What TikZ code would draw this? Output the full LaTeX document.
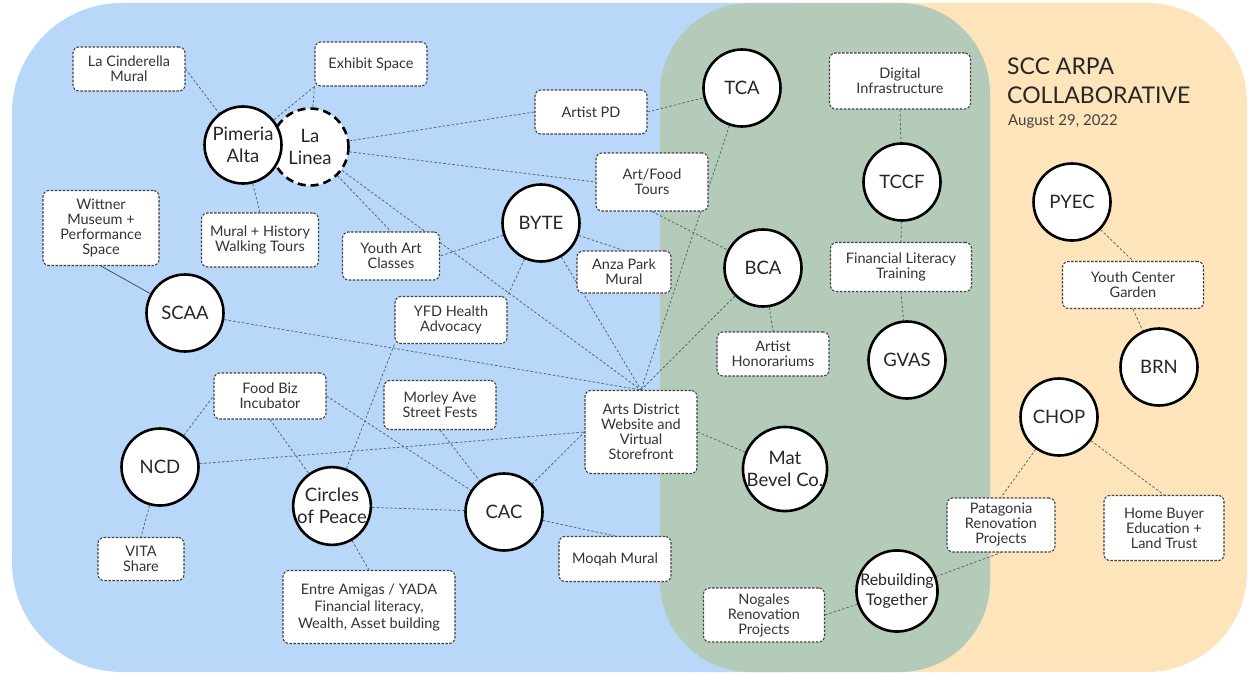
\documentclass[tikz,border=0pt]{standalone}
\usepackage{fontspec}
\setmainfont{Lato}
\usepackage{tikz}
\definecolor{bgblue}{RGB}{184,215,249}
\definecolor{bggreen}{RGB}{181,203,186}
\definecolor{bgtan}{RGB}{253,228,186}
\definecolor{linkgray}{RGB}{85,105,115}
\newcommand{\boxfont}{\fontsize{14.5}{15}\selectfont}
\newcommand{\orgfont}{\fontsize{18.5}{21.5}\selectfont}
\pgfdeclarelayer{regions}
\pgfdeclarelayer{links}
\pgfsetlayers{regions,links,main}
\tikzset{
 org/.style={circle, draw=black, line width=2.6pt, fill=white, minimum size=77pt, inner sep=0pt, align=center, font=\orgfont, text=black!85},
 orgdash/.style={org, dash pattern=on 8pt off 5pt},
 proj/.style={draw=black!75, line width=1.1pt, dash pattern=on 2.5pt off 1.5pt, rounded corners=6pt, fill=white, align=center, font=\boxfont, text=black!80, inner sep=1pt, minimum width=112pt, minimum height=44pt},
 link/.style={draw=linkgray, line width=0.8pt, dash pattern=on 2.5pt off 2pt},
 tie/.style={draw=linkgray!80!black, line width=0.8pt},
}
\begin{document}
\begin{tikzpicture}[x=1pt,y=-1pt]
\useasboundingbox (0,0) rectangle (1252,674);
\begin{pgfonlayer}{regions}
\fill[white] (0,0) rectangle (1252,674);
\fill[bgblue, rounded corners=110pt] (12,3) rectangle (900,672);
\fill[bgtan, rounded corners=100pt] (780,3) rectangle (1247,672);
\fill[bggreen, rounded corners=90pt] (660,3) rectangle (990,672);
\end{pgfonlayer}
\node[anchor=base west, inner sep=0pt, font=\fontsize{23}{27}\selectfont, text=black!85] (title) at (1007,75) {SCC ARPA};
\node[anchor=base west, inner sep=0pt, font=\fontsize{23}{27}\selectfont, text=black!85] (subtitle) at (1007,104) {COLLABORATIVE};
\node[anchor=base west, inner sep=0pt, font=\fontsize{15}{18}\selectfont, text=black!75] (date) at (1008,125) {August 29, 2022};
\node[orgdash] (linea) at (310,147) {La\\Linea};
\node[org] (pimeria) at (243,145) {Pimeria\\Alta};
\node[org] (tca) at (742,88) {TCA};
\node[org] (byte) at (541,223) {BYTE};
\node[org] (bca) at (763,268) {BCA};
\node[org] (tccf) at (902,182) {TCCF};
\node[org] (pyec) at (1072,202) {PYEC};
\node[org] (gvas) at (907,360) {GVAS};
\node[org] (brn) at (1159,367) {BRN};
\node[org] (chop) at (1059,417) {CHOP};
\node[org] (scaa) at (185,313) {SCAA};
\node[org] (ncd) at (160,467) {NCD};
\node[org] (peace) at (332,506) {Circles\\of Peace};
\node[org] (cac) at (504,512) {CAC};
\node[org] (matbevel) at (785,469) {Mat\\Bevel Co.};
\node[org, font=\fontsize{16}{20}\selectfont] (rebuild) at (897,591) {Rebuilding\\Together};
\node[proj] (cinderella) at (129,69) {La Cinderella\\Mural};
\node[proj] (exhibit) at (371,64) {Exhibit Space};
\node[proj, minimum width=116pt, minimum height=75pt] (wittner) at (101,228) {Wittner\\Museum +\\Performance\\Space};
\node[proj, minimum width=117pt, minimum height=54pt] (walking) at (260,240) {Mural + History\\Walking Tours};
\node[proj, minimum width=97pt, minimum height=48pt] (youthart) at (391,256) {Youth Art\\Classes};
\node[proj] (artistpd) at (591,112) {Artist PD};
\node[proj, minimum height=58pt] (artfood) at (652,182) {Art/Food\\Tours};
\node[proj, minimum width=94pt, minimum height=42pt] (anza) at (624,272) {Anza Park\\Mural};
\node[proj, minimum height=47pt] (yfd) at (451,320) {YFD Health\\Advocacy};
\node[proj, minimum height=49pt] (morley) at (440,405) {Morley Ave\\Street Fests};
\node[proj, minimum height=83pt] (website) at (641,432) {Arts District\\Website and\\Virtual\\Storefront};
\node[proj] (honor) at (773,354) {Artist\\Honorariums};
\node[proj, minimum height=45pt] (moqah) at (615,559) {Moqah Mural};
\node[proj, minimum width=121pt, minimum height=54pt] (nogales) at (764,615) {Nogales\\Renovation\\Projects};
\node[proj, minimum height=46pt] (foodbiz) at (270,396) {Food Biz\\Incubator};
\node[proj, minimum width=86pt, minimum height=43pt] (vita) at (141,559) {VITA\\Share};
\node[proj, minimum width=172pt, minimum height=73pt, font=\fontsize{14.5}{17}\selectfont] (amigas) at (369,607) {Entre Amigas / YADA\\Financial literacy,\\Wealth, Asset building};
\node[proj, minimum width=141pt, minimum height=56pt] (digital) at (900,81) {Digital\\Infrastructure};
\node[proj, minimum width=141pt, minimum height=49pt] (finlit) at (901,267) {Financial Literacy\\Training};
\node[proj, minimum width=141pt, minimum height=47pt] (garden) at (1133,285) {Youth Center\\Garden};
\node[proj, minimum width=108pt, minimum height=54pt] (patagonia) at (1001,525) {Patagonia\\Renovation\\Projects};
\node[proj, minimum width=120pt, minimum height=65pt] (homebuyer) at (1164,528) {Home Buyer\\Education +\\Land Trust};
\begin{pgfonlayer}{links}
\draw[link] (cinderella.east) -- (pimeria);
\draw[link] (exhibit.south west) -- (pimeria);
\draw[link] (exhibit.south west) -- (linea);
\draw[link] (walking.north) -- (pimeria);
\draw[tie] (wittner.south) -- (scaa);
\draw[link] (linea) -- (artistpd.west);
\draw[link] (linea) -- (artfood.west);
\draw[link] (linea) -- (youthart.north);
\draw[link] (linea) -- (website.north);
\draw[link] (artistpd.east) -- (tca);
\draw[link] (artfood.south) -- (bca);
\draw[link] (tca) -- (website.north);
\draw[link] (bca) -- (website.north);
\draw[link] (bca) -- (honor.north);
\draw[link] (byte) -- (youthart.east);
\draw[link] (byte) -- (anza.north);
\draw[link] (byte) -- (yfd.north east);
\draw[link] (byte) -- (website.north);
\draw[link] (scaa) -- (website.north);
\draw[link] (ncd) -- (website.west);
\draw[link] (ncd) -- (foodbiz.west);
\draw[link] (ncd) -- (vita.north);
\draw[link] (foodbiz.south) -- (peace);
\draw[link] (foodbiz.east) -- (cac);
\draw[link] (peace) -- (yfd.south west);
\draw[link] (peace) -- (cac);
\draw[link] (peace) -- (amigas.north);
\draw[link] (morley.south) -- (cac);
\draw[link] (cac) -- (website.west);
\draw[link] (cac) -- (moqah.north);
\draw[link] (website.east) -- (matbevel);
\draw[link] (digital.south) -- (tccf);
\draw[link] (tccf) -- (finlit.north);
\draw[link] (finlit.south) -- (gvas);
\draw[link] (pyec) -- (garden.north);
\draw[link] (garden.south) -- (brn);
\draw[link] (chop) -- (patagonia.north);
\draw[link] (chop) -- (homebuyer.north);
\draw[link] (rebuild) -- (patagonia.south);
\draw[link] (rebuild) -- (nogales.east);
\end{pgfonlayer}
\end{tikzpicture}
\end{document}
